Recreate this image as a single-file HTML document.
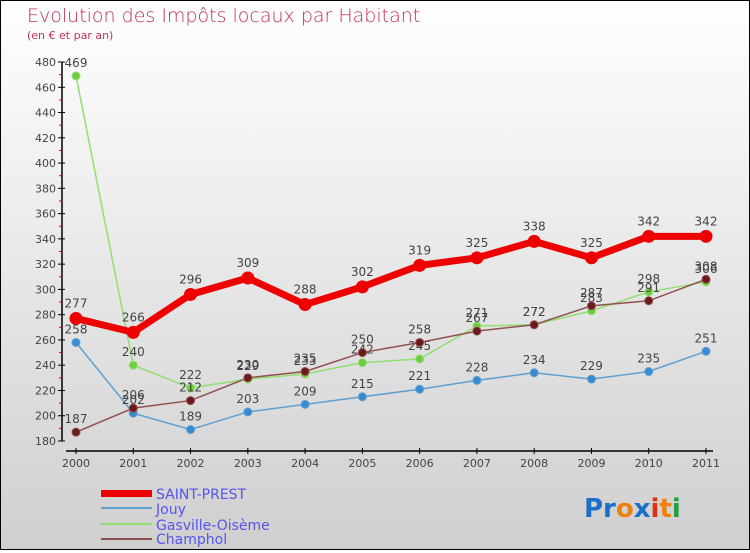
<!DOCTYPE html>
<html><head><meta charset="utf-8"><style>
body{margin:0}
#c{width:748px;height:548px;border:1px solid #000;background:linear-gradient(#ffffff,#cfcfcf);position:relative;font-family:"DejaVu Sans","Liberation Sans",sans-serif}
</style></head><body>
<div id="c">
<svg id="s" width="748" height="548">
<text x="26" y="21" font-size="19" fill="#c0305a" font-weight="200" style="font-family:'DejaVu Sans ExtraLight','DejaVu Sans',sans-serif">Evolution des Impôts locaux par Habitant</text>
<text x="26" y="38" font-size="11" fill="#c0305a">(en € et par an)</text>
<g id="ax"></g><g id="plot"></g>
<g>
<rect x="100" y="489" width="51" height="7" fill="#e00"/>
<text x="155" y="498" font-size="14" fill="#5555ee">SAINT-PREST</text>
<line x1="100" y1="507" x2="151" y2="507" stroke="#5fa0d0" stroke-width="2"/>
<text x="155" y="513" font-size="14" fill="#5555ee">Jouy</text>
<line x1="100" y1="523" x2="151" y2="523" stroke="#90e070" stroke-width="2"/>
<text x="155" y="529" font-size="14" fill="#5555ee">Gasville-Oisème</text>
<line x1="100" y1="538" x2="151" y2="538" stroke="#905050" stroke-width="2"/>
<text x="155" y="543" font-size="14" fill="#5555ee">Champhol</text>
</g>
<text x="583" y="516" font-size="26" font-weight="bold" style="font-family:'DejaVu Sans',sans-serif"><tspan fill="#1a70c8">Pr</tspan><tspan fill="#f08010">o</tspan><tspan fill="#1a70c8">x</tspan><tspan fill="#e03010">i</tspan><tspan fill="#f08010">t</tspan><tspan fill="#20a040">i</tspan></text>
</svg></div>
<script>
const years=["2000","2001","2002","2003","2004","2005","2006","2007","2008","2009","2010","2011"];
const saintPrest=[277,266,296,309,288,302,319,325,338,325,342,342];
const jouy=[258,202,189,203,209,215,221,228,234,229,235,251];
const gasville=[469,240,222,229,233,242,245,271,272,283,298,306];
const champhol=[187,206,212,230,235,250,258,267,272,287,291,308];
const yTicks=[180,200,220,240,260,280,300,320,340,360,380,400,420,440,460,480];
const NS="http://www.w3.org/2000/svg";
const X=i=>75+i*(630/11), Y=v=>440-(v-180)*379/300;
function mk(p,t,a){const e=document.createElementNS(NS,t);for(const k in a)e.setAttribute(k,a[k]);p.appendChild(e);return e;}
const ax=document.getElementById('ax'),pl=document.getElementById('plot');
let yl=mk(ax,'line',{x1:61,y1:Y(480),x2:61,y2:Y(180),stroke:'#000','stroke-width':1.5});

yTicks.forEach((v,i)=>{mk(ax,'line',{x1:57,x2:64,y1:Y(v),y2:Y(v),stroke:'#000'});
 if(i<yTicks.length-1)mk(ax,'line',{x1:58,x2:61,y1:Y(v+10),y2:Y(v+10),stroke:'#e00'});
 const t=mk(ax,'text',{x:55,y:Y(v)+4,'font-size':11,fill:'#444','text-anchor':'end'});t.textContent=v;
 });
let xl=mk(ax,'line',{x1:65,y1:450,x2:712,y2:450,stroke:'#000','stroke-width':1.5});

years.forEach((y,i)=>{mk(ax,'line',{x1:X(i),x2:X(i),y1:447,y2:453,stroke:'#000'});
 const t=mk(ax,'text',{x:X(i),y:466,'font-size':11,fill:'#444','text-anchor':'middle'});t.textContent=y;
 });
function series(d,name,col,dot,w,r){
 const g=mk(pl,'g',{});
 mk(g,'polyline',{points:d.map((v,i)=>X(i)+','+Y(v)).join(' '),fill:'none',stroke:col,'stroke-width':w});
 d.forEach((v,i)=>{const c=mk(g,'circle',{cx:X(i),cy:Y(v),r:r,fill:dot,stroke:col});
  
  const t=mk(g,'text',{x:X(i),y:Y(v)-r-5,'font-size':12,fill:'#444','text-anchor':'middle'});t.textContent=v;
  });
}
series(jouy,'jouy','#5fa0d0','#3a8ad0',1.5,4);
series(gasville,'gasville','#90e070','#70cc40',1.5,4);
series(champhol,'champhol','#905050','#6a1a1a',1.5,4);
series(saintPrest,'saint-prest','#ee0000','#ee0000',7,6);
</script></body></html>
